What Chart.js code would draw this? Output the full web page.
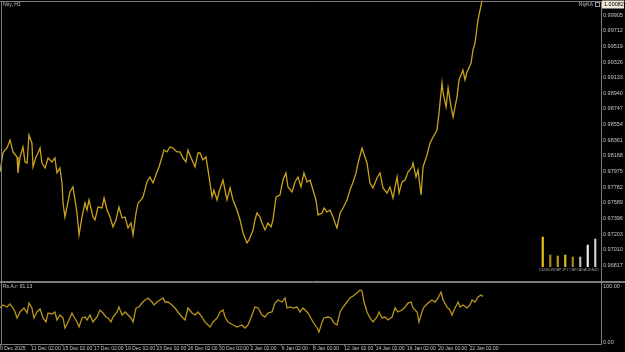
<!DOCTYPE html>
<html>
<head>
<meta charset="utf-8">
<script src="https://cdn.jsdelivr.net/npm/chart.js@4.4.1/dist/chart.umd.min.js"></script>
<style>
  html, body { margin: 0; padding: 0; background: #000; }
  #wrap { position: relative; width: 625px; height: 352px; overflow: hidden; background: #000; }
  canvas { position: absolute; left: 0; }
</style>
</head>
<body>
<div id="wrap">
  <canvas id="mainChart" width="625" height="282" style="top:0"></canvas>
  <canvas id="subChart" width="625" height="70" style="top:282px"></canvas>
  <canvas id="meterChart" width="60" height="42" style="left:539px;top:233px"></canvas>
</div>
<script>
// price closes, x = trading days from 9 Dec 2025
const priceDays = [
  0.00, 0.19, 0.32, 0.45, 0.64, 0.83, 1.09, 1.15, 1.28, 1.47, 1.60, 1.73, 1.85, 2.04, 2.11, 2.30,
  2.43, 2.56, 2.68, 2.88, 3.07, 3.32, 3.51, 3.64, 3.83, 3.96, 4.03, 4.15, 4.28, 4.47, 4.66, 4.79,
  4.92, 5.05, 5.24, 5.43, 5.56, 5.69, 5.94, 6.07, 6.26, 6.52, 6.65, 6.84, 7.03, 7.22, 7.41, 7.60,
  7.80, 7.99, 8.18, 8.37, 8.50, 8.69, 8.82, 9.01, 9.14, 9.39, 9.58, 9.78, 10.03, 10.16, 10.35, 10.48,
  10.67, 10.86, 11.05, 11.31, 11.50, 11.69, 11.88, 12.01, 12.27, 12.46, 12.65, 12.78, 12.97, 13.16, 13.29, 13.55,
  13.67, 13.87, 13.99, 14.25, 14.50, 14.70, 14.89, 15.14, 15.34, 15.53, 15.78, 15.91, 16.17, 16.29, 16.42, 16.61,
  16.74, 16.93, 17.12, 17.32, 17.44, 17.64, 17.89, 18.08, 18.27, 18.40, 18.66, 18.85, 19.04, 19.23, 19.42, 19.62,
  19.81, 20.00, 20.19, 20.32, 20.58, 20.70, 20.89, 21.09, 21.28, 21.41, 21.53, 21.73, 21.92, 22.17, 22.36, 22.56,
  22.75, 22.88, 23.13, 23.32, 23.45, 23.64, 23.83, 24.09, 24.28, 24.47, 24.73, 24.92, 25.11, 25.24, 25.37, 25.50,
  25.69, 25.88, 26.07, 26.33, 26.39, 26.58, 26.71, 26.90, 27.03, 27.28, 27.48, 27.67, 27.92, 28.05, 28.24, 28.31,
  28.50, 28.63, 28.82, 28.95, 29.20, 29.33, 29.58, 29.71, 29.84, 30.10, 30.22, 30.35, 30.54, 30.80
];
const priceClose = [
  0.97970, 0.98204, 0.98241, 0.98266, 0.98365, 0.98217, 0.98155, 0.97958, 0.98155, 0.98278, 0.98093, 0.98081, 0.98426, 0.98328, 0.98032, 0.98155,
  0.98204, 0.98266, 0.98081, 0.98019, 0.98143, 0.98093, 0.98143, 0.97958, 0.98019, 0.97834, 0.97588, 0.97415, 0.97538, 0.97723, 0.97785, 0.97625,
  0.97464, 0.97193, 0.97415, 0.97588, 0.97501, 0.97625, 0.97415, 0.97378, 0.97538, 0.97526, 0.97649, 0.97501, 0.97415, 0.97292, 0.97378, 0.97538,
  0.97403, 0.97415, 0.97280, 0.97341, 0.97193, 0.97464, 0.97588, 0.97625, 0.97662, 0.97847, 0.97908, 0.97834, 0.97970, 0.98032, 0.98155, 0.98241,
  0.98217, 0.98278, 0.98266, 0.98217, 0.98217, 0.98143, 0.98093, 0.98241, 0.98118, 0.98032, 0.98204, 0.98204, 0.98118, 0.98155, 0.97995, 0.97662,
  0.97748, 0.97625, 0.97723, 0.97871, 0.97625, 0.97773, 0.97625, 0.97501, 0.97378, 0.97218, 0.97095, 0.97132, 0.97255, 0.97378, 0.97464, 0.97415,
  0.97341, 0.97255, 0.97341, 0.97292, 0.97378, 0.97662, 0.97686, 0.97871, 0.97958, 0.97785, 0.97723, 0.97847, 0.97908, 0.97785, 0.97958, 0.97847,
  0.97871, 0.97748, 0.97625, 0.97440, 0.97464, 0.97526, 0.97477, 0.97501, 0.97415, 0.97341, 0.97280, 0.97464, 0.97526, 0.97625, 0.97748, 0.97847,
  0.97958, 0.98081, 0.98266, 0.98155, 0.98081, 0.97834, 0.97773, 0.97896, 0.97958, 0.97773, 0.97711, 0.97785, 0.97649, 0.97785, 0.97908, 0.97711,
  0.97847, 0.97871, 0.97970, 0.98032, 0.98081, 0.97908, 0.97995, 0.97686, 0.98032, 0.98180, 0.98328, 0.98402, 0.98488, 0.98698, 0.99068, 0.98944,
  0.98772, 0.99006, 0.98772, 0.98648, 0.98895, 0.99105, 0.99228, 0.99105, 0.99203, 0.99314, 0.99475, 0.99561, 0.99845, 1.00082
];

// oscillator (Rs.A.r) values
const oscDays = [
  0.00, 0.19, 0.45, 0.64, 0.83, 0.96, 1.09, 1.28, 1.53, 1.73, 1.85, 2.04, 2.17, 2.36, 2.56, 2.75,
  2.94, 3.07, 3.32, 3.51, 3.64, 3.83, 4.03, 4.15, 4.35, 4.60, 4.73, 4.92, 5.05, 5.24, 5.43, 5.56,
  5.75, 5.94, 6.20, 6.39, 6.58, 6.77, 6.90, 7.09, 7.22, 7.48, 7.60, 7.80, 7.99, 8.18, 8.37, 8.50,
  8.69, 8.88, 9.07, 9.27, 9.46, 9.71, 9.84, 10.03, 10.22, 10.42, 10.54, 10.73, 10.99, 11.18, 11.37, 11.63,
  11.82, 12.01, 12.27, 12.46, 12.65, 12.91, 13.10, 13.42, 13.61, 13.87, 14.06, 14.25, 14.38, 14.57, 14.89, 15.14,
  15.46, 15.65, 15.85, 16.10, 16.29, 16.49, 16.74, 16.93, 17.12, 17.38, 17.57, 17.76, 18.02, 18.21, 18.34, 18.53,
  18.72, 18.98, 19.17, 19.36, 19.49, 19.68, 20.00, 20.26, 20.38, 20.58, 20.70, 20.96, 21.15, 21.34, 21.53, 21.73,
  21.92, 22.17, 22.36, 22.56, 22.81, 23.00, 23.13, 23.26, 23.45, 23.64, 23.83, 24.09, 24.22, 24.41, 24.60, 24.79,
  25.05, 25.24, 25.43, 25.69, 25.88, 26.07, 26.26, 26.39, 26.65, 26.77, 26.96, 27.09, 27.35, 27.60, 27.80, 27.99,
  28.18, 28.31, 28.56, 28.75, 28.88, 29.07, 29.27, 29.39, 29.58, 29.84, 30.03, 30.16, 30.35, 30.54, 30.73, 30.86
];
const oscValues = [
  60.7, 66.1, 62.5, 67.9, 60.7, 53.6, 42.9, 53.6, 60.7, 51.8, 69.6, 60.7, 42.9, 53.6, 58.9, 42.9,
  35.7, 51.8, 50.0, 53.6, 39.3, 48.2, 42.9, 25.0, 35.7, 51.8, 44.6, 35.7, 26.8, 42.9, 44.6, 39.3,
  48.2, 35.7, 44.6, 57.1, 51.8, 44.6, 42.9, 35.7, 44.6, 53.6, 62.5, 48.2, 53.6, 48.2, 42.9, 35.7,
  60.7, 62.5, 69.6, 75.0, 78.6, 71.4, 66.1, 71.4, 75.0, 78.6, 71.4, 71.4, 66.1, 60.7, 53.6, 44.6,
  39.3, 60.7, 51.8, 48.2, 53.6, 44.6, 35.7, 26.8, 35.7, 42.9, 53.6, 57.1, 44.6, 35.7, 30.4, 26.8,
  30.4, 25.0, 30.4, 48.2, 62.5, 60.7, 48.2, 44.6, 51.8, 53.6, 69.6, 75.0, 71.4, 78.6, 60.7, 62.5,
  60.7, 62.5, 53.6, 60.7, 57.1, 51.8, 35.7, 25.0, 17.9, 35.7, 42.9, 44.6, 42.9, 33.9, 30.4, 53.6,
  62.5, 71.4, 78.6, 82.1, 87.5, 92.9, 91.1, 71.4, 53.6, 42.9, 35.7, 44.6, 53.6, 42.9, 44.6, 39.3,
  44.6, 60.7, 53.6, 57.1, 62.5, 69.6, 71.4, 60.7, 53.6, 35.7, 53.6, 62.5, 69.6, 75.0, 71.4, 78.6,
  89.3, 75.0, 62.5, 57.1, 48.2, 60.7, 71.4, 62.5, 66.1, 60.7, 66.1, 75.0, 71.4, 80.4, 83.9, 81.13
];

const priceTicks = [
  0.96817, 0.97010, 0.97203, 0.97396, 0.97589, 0.97782, 0.97975, 0.98168, 0.98361,
  0.98554, 0.98747, 0.98940, 0.99133, 0.99326, 0.99519, 0.99712, 0.99905
];
const oscTicks = [0, 100];
const dateTicks = [0, 2, 4, 6, 8, 10, 12, 14, 16, 18, 20, 22, 24, 26, 28, 30];
const dateLabels = [
  '9 Dec 2025', '11 Dec 02:00', '15 Dec 02:00', '17 Dec 02:00', '19 Dec 02:00', '23 Dec 02:00',
  '26 Dec 02:00', '30 Dec 02:00', '2 Jan 02:00', '6 Jan 02:00', '8 Jan 02:00', '12 Jan 02:00',
  '14 Jan 02:00', '16 Jan 02:00', '20 Jan 02:00', '22 Jan 02:00'
];

// small strength meter at bottom right
const meterLabels = ['USD', 'EUR', 'GBP', 'JPY', 'CHF', 'CAD', 'AUD', 'NZD'];
const meterValues = [30, 12, 11, 12, 10, 10, 22, 28];

const symbolTitle = 'Ntty, H1';
const meterTitle = 'NtyKA';
const oscTitle = 'Rs.A.r: 81.13';

const textColor = '#c4c4c4';
const frameColor = '#7c7c7c';
const lineGold = '#c9a21d';
const oscGold = '#b8961a';
const tickFont = { family: 'Liberation Sans', size: 5.5 };
const dateFont = { family: 'Liberation Sans', size: 5 };
const xMax = 38.4;

// keep chart area exactly where the axis says, no label overhang padding
function fitRight(s) {
  s.width = 24;
  s.paddingTop = 0;
  s.paddingBottom = 0;
}

const blackBg = {
  id: 'blackBg',
  beforeDraw(chart) {
    const c = chart.ctx;
    c.save();
    c.fillStyle = '#000';
    c.fillRect(0, 0, chart.width, chart.height);
    c.restore();
  }
};

const mainDecor = {
  id: 'mainDecor',
  afterDraw(chart) {
    const c = chart.ctx;
    const area = chart.chartArea;
    c.save();
    c.strokeStyle = frameColor;
    c.lineWidth = 1;
    c.beginPath();
    c.moveTo(0, 1.5); c.lineTo(chart.width, 1.5);
    c.moveTo(1.5, 1.5); c.lineTo(1.5, chart.height);
    c.moveTo(area.right + 0.5, 1.5); c.lineTo(area.right + 0.5, chart.height);
    c.moveTo(0, chart.height - 0.5); c.lineTo(chart.width, chart.height - 0.5);
    c.stroke();

    c.font = '5px "Liberation Sans"';
    c.textBaseline = 'middle';
    c.fillStyle = textColor;
    c.textAlign = 'left';
    c.fillText(symbolTitle, 3, 5);
    c.textAlign = 'right';
    c.fillText(meterTitle, 593, 5);
    c.strokeStyle = '#9a9a9a';
    c.strokeRect(595.5, 2.5, 4, 4);

    // last price box
    const last = priceClose[priceClose.length - 1];
    const y = Math.max(4.5, chart.scales.y.getPixelForValue(last));
    c.fillStyle = '#ece8d4';
    c.fillRect(area.right + 1, y - 4, 22, 8);
    c.fillStyle = '#000';
    c.textAlign = 'left';
    c.font = '5.5px "Liberation Sans"';
    c.fillText(last.toFixed(5), area.right + 3, y);
    c.restore();
  }
};

const subDecor = {
  id: 'subDecor',
  afterDraw(chart) {
    const c = chart.ctx;
    const area = chart.chartArea;
    c.save();
    c.strokeStyle = frameColor;
    c.lineWidth = 1;
    c.beginPath();
    c.moveTo(0, 0.5); c.lineTo(chart.width, 0.5);
    c.moveTo(1.5, 0); c.lineTo(1.5, area.bottom);
    c.moveTo(area.right + 0.5, 0); c.lineTo(area.right + 0.5, area.bottom);
    c.moveTo(0, area.bottom + 0.5); c.lineTo(area.right + 1, area.bottom + 0.5);
    c.stroke();
    c.font = '5px "Liberation Sans"';
    c.textBaseline = 'middle';
    c.fillStyle = textColor;
    c.textAlign = 'left';
    c.fillText(oscTitle, 3, 4.5);
    c.restore();
  }
};

new Chart(document.getElementById('mainChart'), {
  type: 'line',
  data: {
    datasets: [{
      data: priceDays.map((d, i) => ({ x: d, y: priceClose[i] })),
      borderColor: lineGold,
      borderWidth: 1.3,
      pointRadius: 0,
      tension: 0,
      fill: false
    }]
  },
  options: {
    responsive: false,
    animation: false,
    devicePixelRatio: 1,
    layout: { padding: 0 },
    plugins: { legend: { display: false }, tooltip: { enabled: false } },
    scales: {
      x: { type: 'linear', min: 0, max: xMax, display: false },
      y: {
        position: 'right',
        min: 0.96613,
        max: 1.00091,
        afterFit: fitRight,
        afterBuildTicks: s => { s.ticks = priceTicks.map(v => ({ value: v })); },
        grid: { display: false, drawTicks: false },
        border: { display: false },
        ticks: { color: textColor, font: tickFont, padding: 2, autoSkip: false, callback: v => v.toFixed(5) }
      }
    }
  },
  plugins: [blackBg, mainDecor]
});

new Chart(document.getElementById('subChart'), {
  type: 'line',
  data: {
    datasets: [{
      data: oscDays.map((d, i) => ({ x: d, y: oscValues[i] })),
      borderColor: oscGold,
      borderWidth: 1.3,
      pointRadius: 0,
      tension: 0,
      fill: false
    }]
  },
  options: {
    responsive: false,
    animation: false,
    devicePixelRatio: 1,
    layout: { padding: { top: 1 } },
    plugins: { legend: { display: false }, tooltip: { enabled: false } },
    scales: {
      x: {
        type: 'linear', min: 0, max: xMax,
        afterFit: s => { s.height = 8; s.paddingLeft = 0; s.paddingRight = 0; },
        afterBuildTicks: s => { s.ticks = dateTicks.map(v => ({ value: v })); },
        grid: { drawOnChartArea: false, drawTicks: true, tickLength: 2, color: frameColor },
        border: { display: false },
        ticks: { color: textColor, font: dateFont, padding: 0, align: 'start', autoSkip: false, maxRotation: 0, callback: (v, i) => dateLabels[i] }
      },
      y: {
        position: 'right',
        min: -3.57,
        max: 105.36,
        afterFit: fitRight,
        afterBuildTicks: s => { s.ticks = oscTicks.map(v => ({ value: v })); },
        grid: { display: false, drawTicks: false },
        border: { display: false },
        ticks: { color: textColor, font: tickFont, padding: 2, autoSkip: false, callback: v => v.toFixed(2) }
      }
    }
  },
  plugins: [blackBg, subDecor]
});

new Chart(document.getElementById('meterChart'), {
  type: 'bar',
  data: {
    labels: meterLabels,
    datasets: [{
      data: meterValues,
      backgroundColor: ['#e6c61b', '#a88c18', '#b89a1c', '#d9bf1f', '#a88c18', '#bdbdb5', '#eeeeee', '#cfcfcf'],
      barThickness: 1.5
    }]
  },
  options: {
    responsive: false,
    animation: false,
    devicePixelRatio: 1,
    layout: { padding: 0 },
    plugins: { legend: { display: false }, tooltip: { enabled: false } },
    scales: {
      x: {
        afterFit: s => { s.height = 8; s.paddingLeft = 0; s.paddingRight = 0; },
        grid: { display: false, drawTicks: false },
        border: { display: false },
        ticks: { color: '#a0a0a0', font: { family: 'Liberation Sans', size: 3.5 }, padding: 1, autoSkip: false, maxRotation: 0 }
      },
      y: { display: false, min: 0, max: 34 }
    }
  }
});
</script>
</body>
</html>
